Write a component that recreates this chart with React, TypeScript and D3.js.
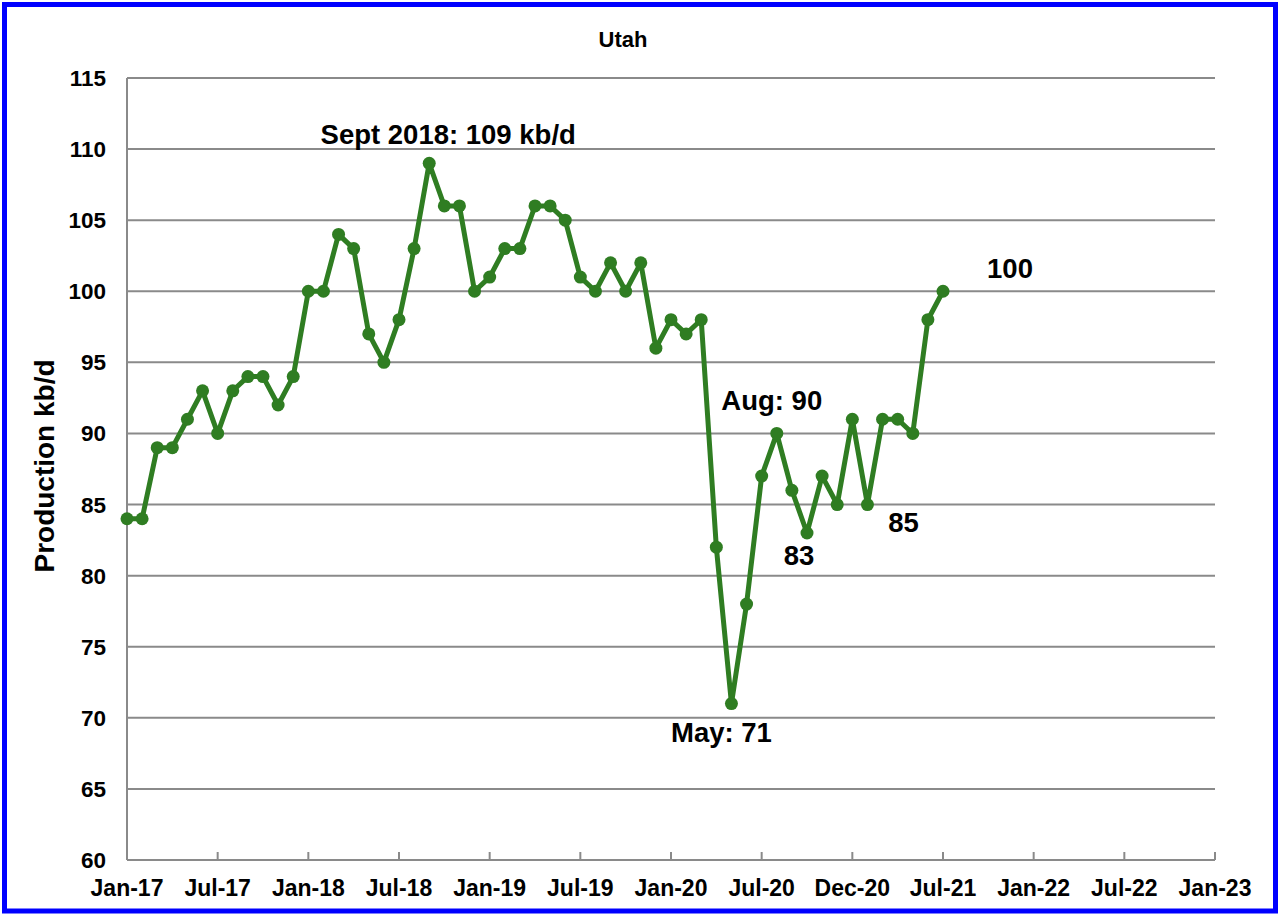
import React from "react";
import * as d3 from "d3";

const W = 1280;
const H = 921;

// Monthly Utah oil production, Jan-2017 .. Jul-2021 (kb/d)
const production: number[] = [
  84, 84, 89, 89, 91, 93, 90, 93, 94, 94, 92, 94,
  100, 100, 104, 103, 97, 95, 98, 103, 109, 106, 106, 100,
  101, 103, 103, 106, 106, 105, 101, 100, 102, 100, 102, 96,
  98, 97, 98, 82, 71, 78, 87, 90, 86, 83, 87, 85,
  91, 85, 91, 91, 90, 98, 100,
];

const xTickLabels: string[] = [
  "Jan-17", "Jul-17", "Jan-18", "Jul-18", "Jan-19", "Jul-19", "Jan-20",
  "Jul-20", "Dec-20", "Jul-21", "Jan-22", "Jul-22", "Jan-23",
];
const xTickMonths: number[] = [0, 6, 12, 18, 24, 30, 36, 42, 48, 54, 60, 66, 72];
const yTicks: number[] = [60, 65, 70, 75, 80, 85, 90, 95, 100, 105, 110, 115];

const annotationLabels: string[] = ["Sept 2018: 109 kb/d", "100", "May: 71", "Aug: 90", "83", "85"];
const annotationMonths: number[] = [20, 54, 40, 43, 45, 49];

export default function App() {
  const x = d3.scaleLinear().domain([0, 72]).range([127, 1215]);
  const y = d3.scaleLinear().domain([60, 115]).range([860, 78]);
  const pts = production.map((v, i) => [x(i), y(v)] as [number, number]);
  const line = d3.line()(pts) || "";
  const offsets: [number, number][] = [
    [19, -19], [67, -13], [-10, 38], [-5, -23], [-8, 32], [36, 27],
  ];
  const font = "'Liberation Sans', Arial, Helvetica, sans-serif";
  const green = "#2f7d22";
  const grid = "#8a8a8a";
  return (
    <svg
      width={W}
      height={H}
      style={{ position: "absolute", left: 0, top: 0, background: "#fff" }}
      fontFamily={font}
      fontWeight="bold"
    >
      <rect x={0} y={0} width={W} height={H} fill="#fff" />
      {yTicks.map((t) => (
        <line key={"g" + t} x1={x(0)} x2={x(72)} y1={y(t)} y2={y(t)} stroke={grid} strokeWidth={2} />
      ))}
      <line x1={x(0)} x2={x(0)} y1={y(115)} y2={y(60)} stroke={grid} strokeWidth={2} />
      {xTickMonths.map((m) => (
        <line key={"t" + m} x1={x(m)} x2={x(m)} y1={y(60)} y2={y(60) - 8} stroke={grid} strokeWidth={2} />
      ))}
      {yTicks.map((t) => (
        <text key={"yl" + t} x={106} y={y(t) + 8} textAnchor="end" fontSize={22.5} fill="#000">
          {t}
        </text>
      ))}
      {xTickLabels.map((l, i) => (
        <text key={"xl" + l} x={x(xTickMonths[i])} y={896} textAnchor="middle" fontSize={23} fill="#000">
          {l}
        </text>
      ))}
      <text x={623} y={47} textAnchor="middle" fontSize={22} fill="#000">
        Utah
      </text>
      <text
        transform={`translate(54,466) rotate(-90)`}
        textAnchor="middle"
        fontSize={28}
        fill="#000"
      >
        Production kb/d
      </text>
      <path d={line} fill="none" stroke={green} strokeWidth={5} strokeLinejoin="round" />
      {pts.map((p, i) => (
        <circle key={"c" + i} cx={p[0]} cy={p[1]} r={6.5} fill={green} />
      ))}
      {annotationLabels.map((l, i) => {
        const m = annotationMonths[i];
        return (
          <text
            key={"a" + i}
            x={x(m) + offsets[i][0]}
            y={y(production[m]) + offsets[i][1]}
            textAnchor="middle"
            fontSize={27.5}
            fill="#000"
          >
            {l}
          </text>
        );
      })}
      <rect x={4.5} y={4.5} width={1271} height={906.5} fill="none" stroke="#0000ff" strokeWidth={5} />
    </svg>
  );
}
